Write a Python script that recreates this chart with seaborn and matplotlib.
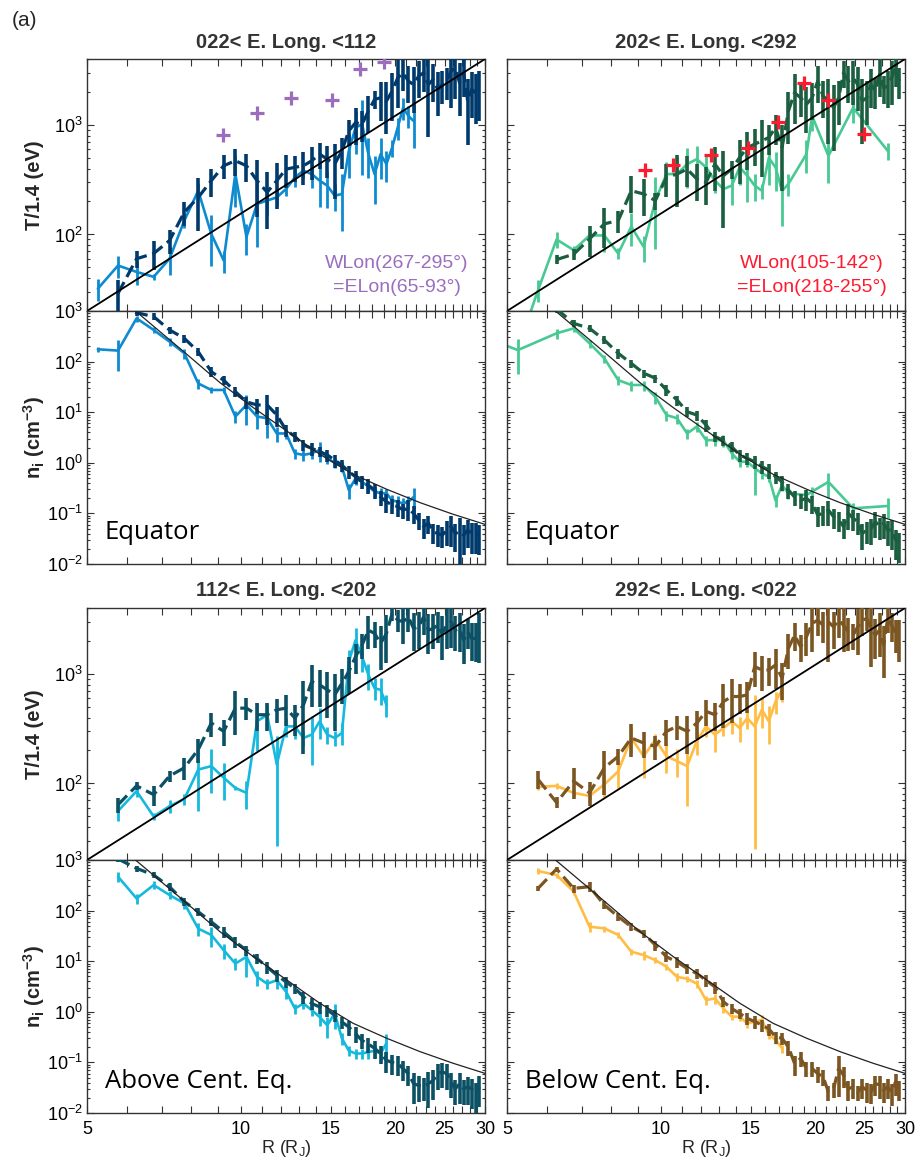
import numpy as np
import pandas as pd
import matplotlib
matplotlib.use("Agg")
import matplotlib.pyplot as plt
import seaborn as sns
from matplotlib.ticker import FixedLocator, FixedFormatter, NullLocator, NullFormatter, LogLocator

sns.set_theme(style="ticks")
plt.rcParams['font.family'] = ['Liberation Sans', 'DejaVu Sans']
plt.rcParams['mathtext.fontset'] = 'custom'
plt.rcParams['mathtext.rm'] = 'Liberation Sans'
plt.rcParams['mathtext.bf'] = 'Liberation Sans:bold'
plt.rcParams['mathtext.it'] = 'Liberation Sans:italic'

nan = np.nan

# radial bins (R_J)
R_light = [4.75, 5.25, 5.75, 6.25, 6.75, 7.25, 7.75, 8.25, 8.75, 9.25,
           9.75, 10.25, 10.75, 11.25, 11.75, 12.25, 12.75, 13.25, 13.75, 14.25,
           14.75, 15.25, 15.75, 16.25, 16.75, 17.25, 17.75, 18.25, 18.75, 19.25,
           19.75, 20.25, 20.75, 21.25, 21.75, 22.25, 22.75, 23.25, 23.75, 24.25,
           24.75, 25.25, 25.75, 26.25, 26.75, 27.25, 27.75]
R_dark = [5.75, 6.25, 6.75, 7.25, 7.75, 8.25, 8.75, 9.25, 9.75, 10.25,
          10.75, 11.25, 11.75, 12.25, 12.75, 13.25, 13.75, 14.25, 14.75, 15.25,
          15.75, 16.25, 16.75, 17.25, 17.75, 18.25, 18.75, 19.25, 19.75, 20.25,
          20.75, 21.25, 21.75, 22.25, 22.75, 23.25, 23.75, 24.25, 24.75, 25.25,
          25.75, 26.25, 26.75, 27.25, 27.75, 28.25, 28.75, 29.25]

# model lines
model_T_R = [5, 30]
model_T = [20, 4000]
model_n_R = [6.22, 7.77, 9.1, 10.57, 12.29, 14.27, 16.58, 19.27, 22.4, 26.0, 29.3, 30.0]
model_n = [1000, 150, 38.3, 12.3, 4.25, 1.47, 0.59, 0.30, 0.163, 0.096, 0.0655, 0.0607]

# error bars are given as half-width in decades

# ---- 022< E. Long. <112 ----
tl_T_dk = [29, 60, 67, 88, 160, 218, 310, 424, 471, 424, 310, 243, 310, 395, 410, 424, 471, 541, 487, 439,
           581, 882, 1050, 1014, 1341, 1710, 1771, 1653, 2036, 2690, 2990, 2510, 2340, 2790, 2990, 2340, 2600, 2110,
           2340, 2510, 3100, 3320, 2430, 2990, 1650, 2110, 1970, 2110]
tl_T_dk_e = [0.14, 0.08, 0.13, 0.11, 0.11, 0.24, 0.13, 0.11, 0.12, 0.13, 0.26, 0.26, 0.21, 0.15, 0.12, 0.15, 0.15,
             0.12, 0.15, 0.25, 0.14, 0.12, 0.17, 0.14, 0.17, 0.08, 0.18, 0.24, 0.22, 0.22, 0.14, 0.17, 0.21, 0.17,
             0.15, 0.35, 0.17, 0.2, 0.15, 0.15, 0.26, 0.23, 0.24, 0.18, 0.3, 0.21, 0.23, 0.23]
tl_T_lt = [nan, 32, 52, 45.5, 41, 60, 134, 251, 101, 58, 356, 95, 190, 204, 218, 260, 332, 382, 356, 310, 279, 226,
           234, 581, 946, 1014, 541, 356, 541, 439, 622, 946, 1437, 1208, 1087] + [nan] * 12
tl_T_lt_e = [0, 0.1, 0.1, 0.11, 0.03, 0.13, 0.06, 0.08, 0.23, 0.1, 0.24, 0.14, 0.3, 0.12, 0.07, 0.06, 0.08, 0.06,
             0.11, 0.2, 0.17, 0.12, 0.26, 0.2, 0.2, 0.34, 0.18, 0.22, 0.19, 0.14, 0.08, 0.1, 0.1, 0.1, 0.2] + [0] * 12
tl_n_dk = [1300, 927, 773, 422, 288, 157, 63, 43, 25.5, 16, 13.9, 13.9, 8.8, 4.45, 3.3, 2.25, 1.93, 1.66, 1.43, 1.13,
           0.9, 0.67, 0.53, 0.42, 0.36, 0.29, 0.21, 0.17, 0.147, 0.137, 0.117, 0.126, 0.1, 0.074, 0.055, 0.064, 0.044,
           0.04, 0.037, 0.047, 0.055, 0.04, 0.044, 0.037, 0.047, 0.04, 0.04, 0.037]
tl_n_dk_e = [0.1, 0.06, 0.07, 0.07, 0.08, 0.08, 0.1, 0.08, 0.1, 0.12, 0.15, 0.3, 0.2, 0.12, 0.1, 0.1, 0.13, 0.1, 0.12,
             0.13, 0.12, 0.12, 0.13, 0.13, 0.15, 0.15, 0.15, 0.18, 0.15, 0.17, 0.15, 0.2, 0.18, 0.17, 0.2, 0.18, 0.2,
             0.22, 0.2, 0.25, 0.3, 0.28, 0.5, 0.3, 0.28, 0.3, 0.3, 0.3]
tl_n_lt = [nan, 175, 165, 716, 422, 248, 146, 37, 27.5, 27.5, 8.2, 13.9, 8.2, 7.6, 3.8, 3.8, 1.54, 1.43, 1.54, 1.8,
           1.22, 1.0, 0.84, 0.29, 0.49, 0.42, 0.34, 0.27, 0.25, 0.25, 0.18, 0.17, 0.158, 0.17, 0.21] + [nan] * 12
tl_n_lt_e = [0, 0.05, 0.3, 0.06, 0.06, 0.08, 0.1, 0.1, 0.06, 0.06, 0.12, 0.3, 0.2, 0.3, 0.15, 0.1, 0.1, 0.1, 0.1, 0.2,
             0.1, 0.1, 0.1, 0.15, 0.12, 0.1, 0.1, 0.1, 0.12, 0.1, 0.12, 0.12, 0.12, 0.12, 0.25] + [0] * 12

# ---- 202< E. Long. <292 ----
tr_T_dk = [nan, 59, 66, 91, 125, 134, 251, 234, 204, 332, 356, 395, 321, 299, 439, 344, 395, 505, 622, 667, 716, 768,
           946, 622, 1341, 1968, 1772, 1541, 1772, 2512, 1836, 1653, 1438, 1772, 2990, 2512, 2690, 2340, 1653, 1772,
           2340, 2036, 2890, 2180, 2260, 2690, 3320, 2512]
tr_T_dk_e = [0, 0.04, 0.05, 0.14, 0.18, 0.1, 0.17, 0.17, 0.08, 0.15, 0.24, 0.14, 0.17, 0.17, 0.2, 0.35, 0.08, 0.2,
             0.17, 0.17, 0.26, 0.14, 0.14, 0.3, 0.24, 0.23, 0.15, 0.21, 0.17, 0.17, 0.17, 0.3, 0.3, 0.2, 0.12, 0.17,
             0.2, 0.2, 0.3, 0.2, 0.18, 0.14, 0.17, 0.13, 0.17, 0.2, 0.15, 0.14]
tr_T_lt = [nan, 9, 31, 90, 72, 98, 98, 67, 118, 77, 204, 356, 356, 439, 487, 410, 310, 260, 279, 410, 344, 279, 251,
           500, 410, 250, 289, nan, nan, 542, 1208, nan, nan, 522, nan, nan, nan, nan, 1436] + [nan] * 7 + [581]
tr_T_lt_e = [0, 0.1, 0.1, 0.07, 0.04, 0.05, 0.13, 0.05, 0.15, 0.12, 0.33, 0.13, 0.2, 0.18, 0.14, 0.14, 0.1, 0.09,
             0.15, 0.14, 0.2, 0.12, 0.07, 0.2, 0.18, 0.25, 0.1, 0, 0, 0.15, 0.12, 0, 0, 0.2, 0, 0, 0, 0, 0.12] + [0] * 7 + [0.08]
tr_n_dk = [nan, 1100, 570, 454, 267, 146, 92, 59, 47, 27.5, 17.4, 10.2, 8.8, 5.6, 3.3, 2.8, 2.08, 1.43, 1.22, 1.05,
           0.84, 0.72, 0.53, 0.42, 0.29, 0.21, 0.18, 0.2, 0.158, 0.093, 0.1, 0.117, 0.086, 0.074, 0.055, 0.1, 0.08,
           0.069, 0.04, 0.047, 0.05, 0.069, 0.055, 0.064, 0.047, 0.047, 0.03, 0.026]
tr_n_dk_e = [0, 0.08, 0.07, 0.07, 0.08, 0.1, 0.08, 0.08, 0.08, 0.1, 0.1, 0.1, 0.1, 0.12, 0.1, 0.1, 0.1, 0.12, 0.12,
             0.12, 0.12, 0.15, 0.12, 0.15, 0.15, 0.15, 0.15, 0.2, 0.18, 0.2, 0.2, 0.25, 0.2, 0.2, 0.2, 0.25, 0.2, 0.22,
             0.25, 0.22, 0.25, 0.25, 0.22, 0.25, 0.25, 0.3, 0.3, 0.3]
tr_n_lt = [248, 169, nan, 362, 454, 230, 116, 43, 34.5, 34.5, 20, 8.8, 7.6, 3.8, 5.2, 2.8, 2.8, 2.8, 1.54, 1.05, 1.05,
           0.78, 0.62, 0.53, 0.18, 0.36, 0.25, nan, nan, 0.23, 0.27, nan, nan, 0.42, nan, nan, nan, nan, 0.126] + [nan] * 7 + [0.14]
tr_n_lt_e = [0.1, 0.35, 0, 0.1, 0.06, 0.08, 0.08, 0.08, 0.1, 0.1, 0.12, 0.1, 0.1, 0.1, 0.1, 0.1, 0.1, 0.12, 0.1, 0.1,
             0.1, 0.38, 0.1, 0.1, 0.12, 0.1, 0.1, 0, 0, 0.1, 0.1, 0, 0, 0.25, 0, 0, 0, 0, 0.12] + [0] * 7 + [0.2]

# ---- 112< E. Long. <202 ----
bl_T_dk = [64, 95, 79, 117, 139, 204, 356, 299, 487, 487, 424, 424, 471, 487, 395, 522, 851, 794, 716, 644, 822, 1050,
           1438, 1836, 2512, 2344, 1900, 2344, 3564, 3100, 3000, 3320, 2600, 2690, 3320, 2512, 2600, 2790, 2344, 2790,
           3000, 2512, 2600, 2036, 2430, 2110, 2110, 2430]
bl_T_dk_e = [0.07, 0.04, 0.09, 0.05, 0.1, 0.11, 0.11, 0.12, 0.2, 0.1, 0.13, 0.13, 0.11, 0.14, 0.14, 0.33, 0.19, 0.17,
             0.21, 0.26, 0.16, 0.17, 0.14, 0.11, 0.15, 0.12, 0.2, 0.22, 0.06, 0.1, 0.17, 0.12, 0.17, 0.17, 0.14, 0.18,
             0.16, 0.14, 0.2, 0.18, 0.2, 0.16, 0.18, 0.18, 0.14, 0.17, 0.18, 0.23]
bl_T_lt = [nan, nan, 56, 85, 50, 62, 72, 134, 144, 113, 91, 82, 369, 424, 149, 332, 332, 260, 279, 369, 279, 260, 288,
           1295, 2036, 1438, 979, 741, 716, 522] + [nan] * 17
bl_T_lt_e = [0, 0, 0.08, 0.05, 0.03, 0.06, 0.05, 0.29, 0.2, 0.17, 0.02, 0.13, 0.22, 0.1, 0.5, 0.09, 0.1, 0.07, 0.22,
             0.14, 0.08, 0.07, 0.1, 0.13, 0.13, 0.12, 0.12, 0.1, 0.12, 0.1] + [0] * 17
bl_n_dk = [1050, 684, 505, 296, 150, 95, 60, 38, 24, 16.6, 11.3, 7.7, 5.3, 3.9, 2.9, 1.98, 1.46, 1.25, 1.08, 0.86,
           0.63, 0.5, 0.37, 0.27, 0.23, 0.19, 0.15, 0.11, 0.1, 0.095, 0.075, 0.06, 0.038, 0.035, 0.033, 0.038, 0.044,
           0.06, 0.065, 0.06, 0.041, 0.03, 0.038, 0.03, 0.033, 0.03, 0.024, 0.033]
bl_n_dk_e = [0.06, 0.06, 0.06, 0.08, 0.08, 0.08, 0.08, 0.1, 0.1, 0.1, 0.1, 0.12, 0.12, 0.1, 0.1, 0.12, 0.12, 0.12,
             0.12, 0.12, 0.12, 0.15, 0.15, 0.15, 0.15, 0.18, 0.18, 0.2, 0.2, 0.2, 0.2, 0.2, 0.3, 0.25, 0.22, 0.35,
             0.3, 0.25, 0.25, 0.25, 0.25, 0.25, 0.3, 0.25, 0.28, 0.3, 0.35, 0.3]
bl_n_lt = [nan, nan, 468, 174, 320, 203, 139, 44, 33, 16.6, 9, 12.2, 4.9, 3.6, 4.2, 2.5, 1.16, 1.46, 1.08, 0.79, 0.54,
           0.94, 0.3, 0.17, 0.15, 0.15, 0.16, 0.17, 0.15, 0.24] + [nan] * 17
bl_n_lt_e = [0, 0, 0.1, 0.1, 0.08, 0.08, 0.1, 0.12, 0.2, 0.15, 0.12, 0.3, 0.15, 0.1, 0.15, 0.12, 0.1, 0.1, 0.1, 0.15,
             0.2, 0.25, 0.12, 0.1, 0.1, 0.1, 0.12, 0.12, 0.12, 0.25] + [0] * 17

# ---- 292< E. Long. <022 ----
br_T_dk = [109, 67, 105, 82, 139, 177, 260, 234, 218, 299, 332, 299, 356, 455, 424, 560, 622, 622, 644, 1166, 1087,
           1087, 1208, 914, 1710, 2264, 1772, 2183, 2890, 3100, 2786, 2990, 2690, 3100, 2786, 2427, 2264, 2690, 3100,
           3206, 2600, 2264, 2512, 1836, 3206, 2786, 2344, 2183]
br_T_dk_e = [0.08, 0.05, 0.14, 0.11, 0.2, 0.07, 0.15, 0.12, 0.11, 0.12, 0.11, 0.17, 0.13, 0.12, 0.13, 0.2, 0.2, 0.14,
             0.14, 0.16, 0.16, 0.13, 0.18, 0.17, 0.16, 0.13, 0.12, 0.15, 0.21, 0.13, 0.14, 0.28, 0.17, 0.14, 0.2, 0.15,
             0.12, 0.21, 0.13, 0.1, 0.27, 0.18, 0.2, 0.24, 0.12, 0.13, 0.15, 0.19]
br_T_lt = [nan, nan, 93, 95, 82, 77, 98, 129, 260, 177, 251, 177, 160, 144, 243, 332, 279, 321, 369, 321, 395, 332,
           471, 369, 560, 716] + [nan] * 21
br_T_lt_e = [0, 0, 0.03, 0.03, 0.03, 0.04, 0.1, 0.13, 0.12, 0.17, 0.06, 0.13, 0.13, 0.28, 0.11, 0.09, 0.14, 0.07, 0.1,
             0.11, 0.09, 0.7, 0.14, 0.17, 0.1, 0.1] + [0] * 21
br_n_dk = [275, 664, 275, 297, 129, 76, 48, 35.5, 20.8, 12.2, 9.7, 7.2, 5.7, 4.2, 3.1, 1.58, 1.16, 0.93, 0.74, 0.64,
           0.55, 0.46, 0.32, 0.3, 0.2, 0.095, 0.12, 0.076, 0.076, 0.06, 0.052, 0.026, 0.03, 0.076, 0.056, 0.03, 0.033,
           0.026, 0.033, 0.028, 0.026, 0.038, 0.036, 0.028, 0.033, 0.026, 0.041, 0.03]
br_n_dk_e = [0.05, 0.05, 0.08, 0.1, 0.08, 0.08, 0.08, 0.08, 0.1, 0.1, 0.1, 0.1, 0.1, 0.12, 0.12, 0.1, 0.1, 0.1, 0.12,
             0.12, 0.12, 0.12, 0.12, 0.12, 0.15, 0.2, 0.15, 0.15, 0.15, 0.15, 0.15, 0.15, 0.15, 0.4, 0.2, 0.2, 0.2,
             0.15, 0.2, 0.2, 0.2, 0.2, 0.22, 0.2, 0.2, 0.22, 0.22, 0.2]
br_n_lt = [nan, nan, 605, 505, 237, 48, 44.6, 33, 15.4, 13.2, 10.5, 7.8, 4.9, 4.5, 3.6, 1.7, 1.84, 1.16, 0.8, 0.8,
           0.59, 0.64, 0.69, 0.35, 0.28, 0.19] + [nan] * 21
br_n_lt_e = [0, 0, 0.06, 0.05, 0.06, 0.1, 0.06, 0.06, 0.06, 0.08, 0.06, 0.06, 0.08, 0.06, 0.08, 0.08, 0.1, 0.08,
             0.06, 0.08, 0.08, 0.08, 0.1, 0.08, 0.08, 0.08] + [0] * 21

# other spacecraft estimates
purple_R = [9.22, 10.75, 12.5, 15.06, 17.08, 19.05]
purple_T = [812, 1285, 1758, 1688, 3228, 3740]
red_R = [9.31, 10.57, 12.5, 14.77, 16.96, 19.04, 21.18, 24.93]
red_T = [390, 427, 530, 622, 1072, 2427, 1677, 833]

panels = [
    dict(title="022< E. Long. <112", col=0, row=0, dk="#003a6c", lt="#0e8bd0", label="Equator",
         T=(tl_T_dk, tl_T_dk_e, tl_T_lt, tl_T_lt_e), n=(tl_n_dk, tl_n_dk_e, tl_n_lt, tl_n_lt_e)),
    dict(title="202< E. Long. <292", col=1, row=0, dk="#1b5e40", lt="#48c993", label="Equator",
         T=(tr_T_dk, tr_T_dk_e, tr_T_lt, tr_T_lt_e), n=(tr_n_dk, tr_n_dk_e, tr_n_lt, tr_n_lt_e)),
    dict(title="112< E. Long. <202", col=0, row=1, dk="#0b5064", lt="#16b9dd", label="Above Cent. Eq.",
         T=(bl_T_dk, bl_T_dk_e, bl_T_lt, bl_T_lt_e), n=(bl_n_dk, bl_n_dk_e, bl_n_lt, bl_n_lt_e)),
    dict(title="292< E. Long. <022", col=1, row=1, dk="#7b5522", lt="#ffbd45", label="Below Cent. Eq.",
         T=(br_T_dk, br_T_dk_e, br_T_lt, br_T_lt_e), n=(br_n_dk, br_n_dk_e, br_n_lt, br_n_lt_e)),
]

W, H = 924, 1162
col_x = [87, 507]
row_y = [(59, 311, 564), (608, 860, 1113)]
AX_W = 398

x_ticks = list(range(5, 31))
x_labels = [str(t) if t % 5 == 0 else "" for t in x_ticks]


def series(ax, R, v, e, color, dashed):
    df = pd.DataFrame({"R": R, "v": v, "e": e}).dropna()
    yerr = df["v"] * np.tanh(df["e"] * np.log(10))
    ax.errorbar(df["R"], df["v"], yerr=yerr, fmt="none", ecolor=color,
                elinewidth=2.6 if dashed else 2.0, capsize=0, zorder=3 if dashed else 2)
    sns.lineplot(data=df, x="R", y="v", ax=ax, color=color, estimator=None, legend=False,
                 lw=2.3 if dashed else 1.9, linestyle=(0, (4.0, 1.8)) if dashed else "-",
                 zorder=3 if dashed else 2)


def style_axis(ax, ylim, left_labels, bottom_labels):
    ax.set_xscale("log")
    ax.set_yscale("log")
    ax.set_xlim(5, 30)
    ax.set_ylim(*ylim)
    ax.xaxis.set_major_locator(FixedLocator(x_ticks))
    ax.xaxis.set_major_formatter(FixedFormatter(x_labels))
    ax.xaxis.set_minor_locator(NullLocator())
    ax.yaxis.set_major_locator(LogLocator(base=10))
    ax.yaxis.set_minor_locator(LogLocator(base=10, subs=np.arange(2, 10)))
    ax.yaxis.set_minor_formatter(NullFormatter())
    ax.tick_params(which="both", direction="in", top=True, right=True, colors="#333333",
                   labelcolor="black", labelsize=13, width=0.8)
    ax.tick_params(which="major", length=5, pad=3)
    ax.tick_params(which="minor", length=2.5)
    ax.tick_params(axis="x", pad=6)
    ax.tick_params(labelleft=left_labels, labelbottom=bottom_labels)
    for s in ax.spines.values():
        s.set_color("#333333")
        s.set_linewidth(1.0)
    ax.set_xlabel("")
    ax.set_ylabel("")


fig = plt.figure(figsize=(W / 100, H / 100), dpi=100)

for p in panels:
    x0 = col_x[p["col"]]
    yt, ym, yb = row_y[p["row"]]
    axT = fig.add_axes([x0 / W, 1 - ym / H, AX_W / W, (ym - yt) / H])
    axN = fig.add_axes([x0 / W, 1 - yb / H, AX_W / W, (yb - ym) / H])
    for ax in (axT, axN):
        ax.set_xscale("log")
        ax.set_yscale("log")

    dk, dke, lt, lte = p["T"]
    series(axT, R_light, lt, lte, p["lt"], False)
    series(axT, R_dark, dk, dke, p["dk"], True)
    sns.lineplot(x=model_T_R, y=model_T, ax=axT, color="black", lw=1.3, zorder=4, legend=False)

    dk, dke, lt, lte = p["n"]
    series(axN, R_light, lt, lte, p["lt"], False)
    series(axN, R_dark, dk, dke, p["dk"], True)
    sns.lineplot(x=model_n_R, y=model_n, ax=axN, color="#222222", lw=0.9, zorder=4, legend=False)

    left = p["col"] == 0
    style_axis(axT, (20, 4000), left, False)
    style_axis(axN, (0.01, 1000), left, p["row"] == 1)

    axT.text(0.5, 1 + 17 / 252, p["title"], transform=axT.transAxes, ha="center", va="center",
             fontsize=14.5, fontweight="bold", color="#333333")
    axN.text(0.045, 0.125, p["label"], transform=axN.transAxes, ha="left", va="center",
             fontsize=18.5, family=["Open Sans", "DejaVu Sans"], color="black")

    if left:
        fig.text(34 / W, 1 - (yt + ym) / 2 / H, "T/1.4 (eV)", rotation=90, ha="center", va="center",
                 fontsize=14.5, fontweight="bold")
        fig.text(34 / W, 1 - (ym + yb) / 2 / H, r"$\mathbf{n_i\ (cm^{-3})}$", rotation=90, ha="center",
                 va="center", fontsize=14.5)
    if p["row"] == 1:
        axN.text(0.5, -0.158, r"R (R$_\mathregular{J}$)", transform=axN.transAxes, ha="center",
                 va="baseline", fontsize=13)

    if p["col"] == 0 and p["row"] == 0:
        sns.scatterplot(x=purple_R, y=purple_T, ax=axT, marker="+", s=110, linewidth=2.3,
                        color="#9a6dbf", zorder=6, legend=False)
        axT.text(0.779, 0.19, "WLon(267-295°)", transform=axT.transAxes, ha="center", va="center",
                 fontsize=14, color="#9a6dbf")
        axT.text(0.779, 0.095, "=ELon(65-93°)", transform=axT.transAxes, ha="center", va="center",
                 fontsize=14, color="#9a6dbf")
    if p["col"] == 1 and p["row"] == 0:
        sns.scatterplot(x=red_R, y=red_T, ax=axT, marker="+", s=110, linewidth=2.3,
                        color="#ff1a2e", zorder=6, legend=False)
        axT.text(0.766, 0.19, "WLon(105-142°)", transform=axT.transAxes, ha="center", va="center",
                 fontsize=14, color="#ff1a2e")
        axT.text(0.766, 0.095, "=ELon(218-255°)", transform=axT.transAxes, ha="center", va="center",
                 fontsize=14, color="#ff1a2e")

fig.text(12 / W, 1 - 20 / H, "(a)", ha="left", va="center", fontsize=15)

fig.savefig("out.png", dpi=100)
